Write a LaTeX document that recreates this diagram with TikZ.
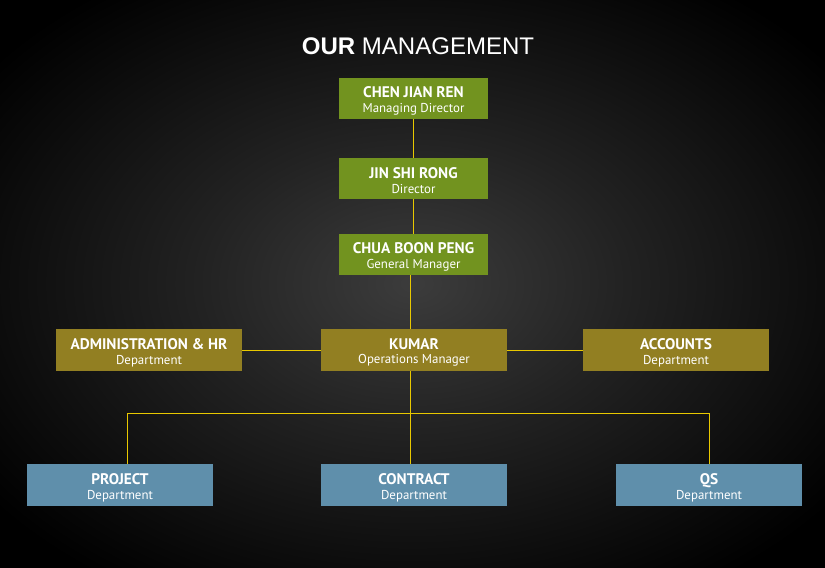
\documentclass[tikz,border=0pt]{standalone}
\usepackage{fontspec}
\setmainfont{PT Sans}
\newfontfamily\titlefont{Liberation Sans}
\usetikzlibrary{positioning}

\definecolor{mgreen}{HTML}{72931F}
\definecolor{mgold}{HTML}{927F22}
\definecolor{mblue}{HTML}{5F8FAB}
\definecolor{mline}{HTML}{E8C800}
\definecolor{bgmid}{HTML}{3C3C3C}
\definecolor{bgring}{HTML}{222222}

\pgfdeclareradialshading{stage}{\pgfpoint{0bp}{0bp}}{%
  color(0bp)=(bgmid); color(13bp)=(bgring); color(32bp)=(black); color(50bp)=(black)}

\newcommand{\who}[2]{{\rule{0pt}{13.5pt}\bfseries\fontsize{13.1}{14}\selectfont #1}\\[0.6pt]{\fontsize{11}{12}\selectfont #2}}

\begin{document}
\begin{tikzpicture}[x=0.03cm,y=-0.03cm,
  box/.style={text=white, align=center, inner sep=0pt, minimum height=1.24cm},
  top/.style={box, fill=mgreen, minimum width=4.47cm},
  mid/.style={box, fill=mgold, minimum width=5.58cm},
  dept/.style={box, fill=mblue, minimum width=5.58cm},
  link/.style={draw=mline, line width=0.6pt}]

\shade[shading=stage] (0,0) rectangle (825,567);

\node[text=white] (title) at (418,46) {\titlefont\fontsize{20.5}{24}\selectfont\textbf{OUR} MANAGEMENT};

\node[top] (chen) at (413.5,98.5) {\who{CHEN JIAN REN}{Managing Director}};
\node[top] (jin) at (413.5,178.5) {\who{JIN SHI RONG}{Director}};
\node[top] (chua) at (413.5,254.5) {\who{CHUA BOON PENG}{General Manager}};

\node[mid] (admin) at (149,350) {\who{ADMINISTRATION \& HR}{Department}};
\node[mid] (kumar) at (414,350) {\who{KUMAR}{Operations Manager}};
\node[mid] (accounts) at (676,350) {\who{ACCOUNTS}{Department}};

\node[dept] (project) at (120,485) {\who{PROJECT}{Department}};
\node[dept] (contract) at (414,485) {\who{CONTRACT}{Department}};
\node[dept] (qs) at (709,485) {\who{QS}{Department}};

\coordinate (lt) at (127,413);
\coordinate (rt) at (709,413);
\coordinate (split) at (410,413);

\draw[link] (chen) -- (jin);
\draw[link] (jin) -- (chua);
\draw[link] (chua.south -| split) -- (kumar.north -| split);
\draw[link] (admin) -- (kumar);
\draw[link] (kumar) -- (accounts);
\draw[link] (kumar.south -| split) -- (contract.north -| split);
\draw[link] (project.north -| lt) -- (lt) -- (rt) -- (qs.north -| rt);

\end{tikzpicture}
\end{document}
